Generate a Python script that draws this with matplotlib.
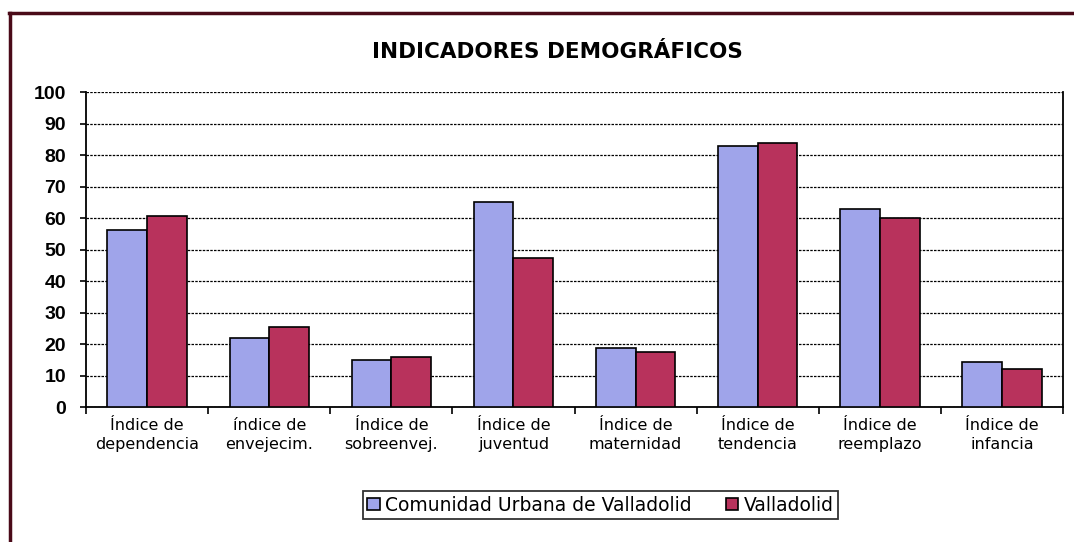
import matplotlib.pyplot as plt
import numpy as np
from matplotlib.lines import Line2D

categories = ["Índice de\ndependencia", "índice de\nenvejecim.", "Índice de\nsobreenvej.",
              "Índice de\njuventud", "Índice de\nmaternidad", "Índice de\ntendencia",
              "Índice de\nreemplazo", "Índice de\ninfancia"]
comunidad = [56.2, 22.0, 14.9, 65.1, 18.8, 83.0, 63.0, 14.3]
valladolid = [60.7, 25.5, 15.8, 47.4, 17.6, 83.7, 60.1, 12.2]
series_names = ["Comunidad Urbana de Valladolid", "Valladolid"]
yticks = list(range(0, 101, 10))

blue = "#9FA4EA"
red = "#B8325C"

fig = plt.figure(figsize=(10.74, 5.42), dpi=100)
ax = fig.add_axes([0.0801, 0.249, 0.9097, 0.581])

x = np.arange(len(categories))
w = 0.325
ax.bar(x - w / 2, comunidad, w, color=blue, edgecolor="black", linewidth=1.2,
       label=series_names[0], zorder=3)
ax.bar(x + w / 2, valladolid, w, color=red, edgecolor="black", linewidth=1.2,
       label=series_names[1], zorder=3)

ax.set_xlim(-0.5, len(categories) - 0.5)
ax.set_ylim(0, 100)
ax.set_yticks(yticks)
ax.yaxis.grid(True, color="black", linestyle=(0, (2, 1)), linewidth=0.9, zorder=0)
ax.set_axisbelow(True)

ax.set_xticks(x)
ax.set_xticklabels(categories, fontfamily="DejaVu Sans", fontsize=11.5, linespacing=1.35)
ax.set_xticks(np.arange(-0.5, len(categories)), minor=True)
ax.tick_params(axis="x", which="major", length=0, pad=8)
ax.tick_params(axis="x", which="minor", length=5, width=1.2, direction="out")
ax.tick_params(axis="y", length=4.5, width=1.2, direction="out", pad=10)
for lbl in ax.get_yticklabels():
    lbl.set_fontfamily("Liberation Sans")
    lbl.set_fontsize(14)
    lbl.set_fontweight("bold")

for side in ["left", "bottom", "right"]:
    ax.spines[side].set_linewidth(1.3)
ax.spines["top"].set_visible(False)

fig.text(0.519, 0.904, "INDICADORES DEMOGRÁFICOS", ha="center", va="center",
         fontsize=15.5, fontweight="bold", fontfamily="DejaVu Sans")

leg = fig.legend(loc="center", bbox_to_anchor=(0.559, 0.068), ncol=2, frameon=True,
                 fancybox=False, edgecolor="black",
                 prop={"family": "DejaVu Sans", "size": 13.5},
                 handlelength=0.65, handleheight=0.65, handletextpad=0.3,
                 columnspacing=1.8, borderpad=0.25, borderaxespad=0.0)
leg.get_frame().set_linewidth(1.3)

# outer frame of the original sheet
fig.add_artist(Line2D([0.008, 1.0], [0.976, 0.976], color="#4a0a18", linewidth=2.5,
                      transform=fig.transFigure))
fig.add_artist(Line2D([0.009, 0.009], [0.0, 0.976], color="#4a0a18", linewidth=2.5,
                      transform=fig.transFigure))

fig.savefig("out.png", dpi=100)
